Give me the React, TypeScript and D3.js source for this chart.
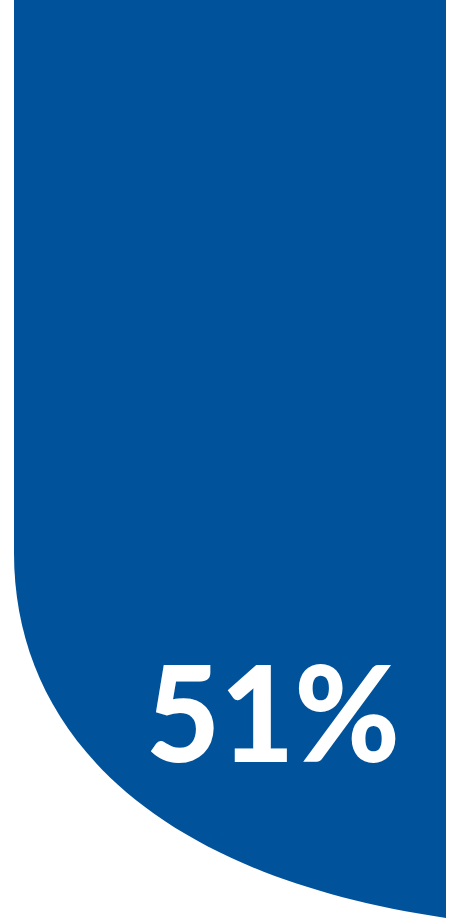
import { useEffect, useRef } from 'react';
import * as d3 from 'd3';

// value shown on the card
const values = [51];
const labels = values.map(v => `${v}%`);

const width = 458;
const height = 918;

export default function App() {
  const svgRef = useRef<SVGSVGElement>(null);

  useEffect(() => {
    document.body.style.margin = '0';
    const svg = d3.select(svgRef.current);
    svg.selectAll('*').remove();

    const x = d3.scaleLinear().domain([0, 1]).range([14, 446]);
    const y = d3.scaleLinear().domain([0, 1]).range([0, 918]);

    // card outline with the curved lower-left corner
    const p = d3.path();
    p.moveTo(x(0), y(0));
    p.lineTo(x(1), y(0));
    p.lineTo(x(1), y(1));
    p.bezierCurveTo(x(0.315), y(875 / 918), x(0), y(730 / 918), x(0), y(553 / 918));
    p.closePath();

    svg.append('path')
      .attr('d', p.toString())
      .attr('fill', '#00529b');

    svg.append('text')
      .attr('x', 400)
      .attr('y', 762)
      .attr('text-anchor', 'end')
      .attr('font-family', 'Lato, "Open Sans", sans-serif')
      .attr('font-weight', 900)
      .attr('font-size', 133)
      .attr('fill', '#ffffff')
      .attr('textLength', 254)
      .attr('lengthAdjust', 'spacingAndGlyphs')
      .text(labels[0]);
  }, []);

  return (
    <svg
      ref={svgRef}
      width={width}
      height={height}
      style={{ position: 'absolute', top: 0, left: 0, display: 'block' }}
    />
  );
}
